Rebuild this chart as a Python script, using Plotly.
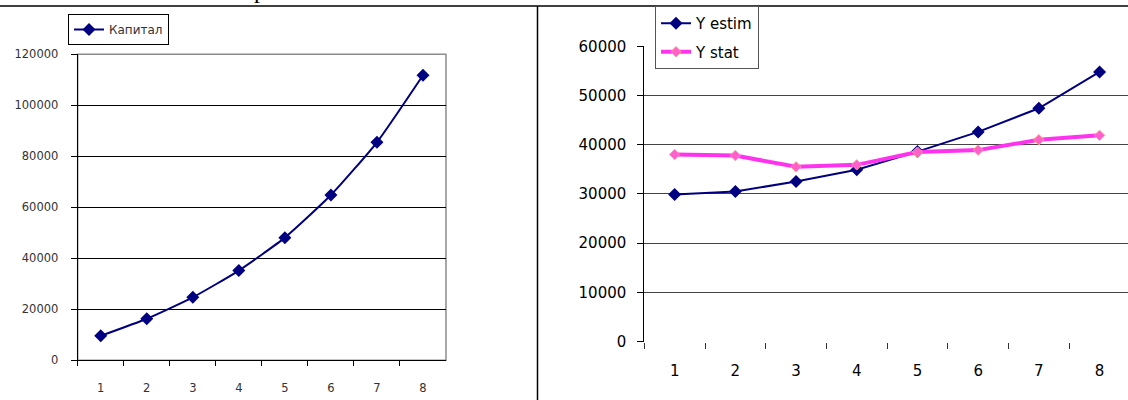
import plotly.graph_objects as go

# ---- data ----
categories = ["1", "2", "3", "4", "5", "6", "7", "8"]
kapital = [9600, 16300, 24700, 35200, 48100, 64800, 85500, 111800]
y_estim = [29900, 30500, 32500, 34900, 38600, 42600, 47400, 54800]
y_stat = [38000, 37800, 35500, 35900, 38500, 38900, 41000, 41900]
left_yticks = [0, 20000, 40000, 60000, 80000, 100000, 120000]
right_yticks = [0, 10000, 20000, 30000, 40000, 50000, 60000]

W, H = 1128, 400
NAVY = "#000080"
MAGENTA = "#ff33ee"
FONT = "DejaVu Sans"

fig = go.Figure()

fig.add_trace(go.Scatter(
    x=categories, y=kapital, name="Капитал", mode="lines+markers",
    line=dict(color=NAVY, width=2, shape="spline", smoothing=0.5),
    marker=dict(symbol="diamond", size=10, color=NAVY),
    xaxis="x", yaxis="y", legend="legend", showlegend=True,
))
fig.add_trace(go.Scatter(
    x=categories, y=y_estim, name="Y estim", mode="lines+markers",
    line=dict(color=NAVY, width=2),
    marker=dict(symbol="diamond", size=10, color=NAVY),
    xaxis="x2", yaxis="y2", legend="legend2", showlegend=True,
    legendgroup="estim",
))
fig.add_trace(go.Scatter(
    x=categories, y=y_stat, name="Y stat", mode="lines+markers",
    line=dict(color=MAGENTA, width=4),
    marker=dict(symbol="diamond", size=8, color="#ff60cc",
                line=dict(color="#ff9a8a", width=1)),
    xaxis="x2", yaxis="y2", legend="legend2", showlegend=True,
    legendgroup="stat",
))

# right-axis range so that the 8 categories extend slightly beyond the page edge
x2_left_px = 644.3
cat_w = 60.7
x2_range_end = -0.5 + (W - x2_left_px) / cat_w

fig.update_layout(
    width=W, height=H, autosize=False,
    margin=dict(l=0, r=0, t=0, b=0, pad=0),
    showlegend=True,
    paper_bgcolor="white", plot_bgcolor="white",
    font=dict(family=FONT, color="#000"),
    xaxis=dict(
        domain=[77.7 / W, 446 / W], type="category",
        categoryorder="array", categoryarray=categories,
        range=[-0.5, 7.5], automargin=False,
        showgrid=False, showline=True, linecolor="#000", linewidth=1,
        ticks="outside", tickson="boundaries", ticklen=5, tickcolor="#000",
        tickfont=dict(size=11.5, color="#333"), ticklabelstandoff=17,
        zeroline=False, fixedrange=True,
    ),
    yaxis=dict(
        domain=[(H - 360.3) / H, (H - 54.3) / H], range=[0, 120000],
        tickvals=left_yticks, ticktext=[str(v) for v in left_yticks],
        automargin=False,
        showgrid=True, gridcolor="#000", gridwidth=1,
        showline=True, linecolor="#000", linewidth=1,
        ticks="outside", ticklen=6, tickcolor="#000",
        tickfont=dict(size=11.5, color="#333"), ticklabelstandoff=10,
        zeroline=False, fixedrange=True,
    ),
    xaxis2=dict(
        domain=[x2_left_px / W, 1.0], type="category",
        categoryorder="array", categoryarray=categories,
        range=[-0.5, x2_range_end], anchor="y2", automargin=False,
        showgrid=False, showline=False,
        ticks="outside", tickson="boundaries", ticklen=6, tickcolor="#333",
        tickfont=dict(size=15, color="#000"), ticklabelstandoff=18,
        zeroline=False, fixedrange=True,
    ),
    yaxis2=dict(
        domain=[(H - 341.5) / H, (H - 46.3) / H], range=[0, 60000], anchor="x2",
        tickvals=right_yticks, ticktext=[str(v) for v in right_yticks],
        automargin=False,
        showgrid=True, gridcolor="#444", gridwidth=1,
        showline=True, linecolor="#000", linewidth=1,
        ticks="outside", ticklen=6, tickcolor="#000",
        tickfont=dict(size=15, color="#000"), ticklabelstandoff=8,
        zeroline=False, fixedrange=True,
    ),
    legend=dict(
        x=68 / W, y=(H - 14) / H, xanchor="left", yanchor="top",
        bordercolor="#000", borderwidth=1, bgcolor="white",
        font=dict(size=12, color="#333"),
    ),
    legend2=dict(
        x=655 / W, y=(H - 6) / H, xanchor="left", yanchor="top",
        bordercolor="#555", borderwidth=1, bgcolor="white",
        font=dict(size=15, color="#000"), tracegroupgap=6,
    ),
    shapes=[
        # gray plot-area border of the left chart (top/right)
        dict(type="rect", xref="x domain", yref="y domain", x0=0, x1=1, y0=0, y1=1,
             line=dict(color="#8c8c8c", width=1.5), layer="below"),
        # outer frame of the page
        dict(type="line", xref="paper", yref="paper", x0=0, x1=1,
             y0=(H - 6) / H, y1=(H - 6) / H, line=dict(color="#000", width=1.5)),
        dict(type="line", xref="paper", yref="paper", x0=537.5 / W, x1=537.5 / W,
             y0=0, y1=(H - 6) / H, line=dict(color="#000", width=1.5)),
    ],
    annotations=[
        dict(text="р", xref="paper", yref="paper", x=260 / W, y=(H - 5) / H,
             xanchor="center", yanchor="bottom", showarrow=False,
             font=dict(family="Liberation Serif", size=24, color="#000")),
    ],
)

fig.write_html(
    "out.html",
    config={"displayModeBar": False, "staticPlot": True},
    post_script="document.body.style.margin='0';document.body.style.overflow='hidden';",
)
